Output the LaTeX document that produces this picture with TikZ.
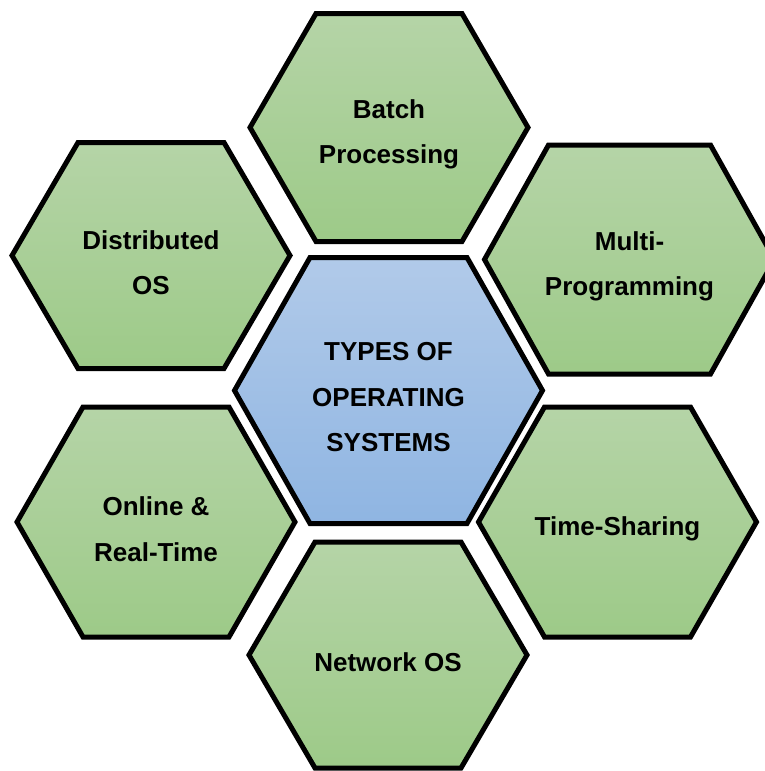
\documentclass[tikz,border=0pt]{standalone}
\usepackage{fontspec}
\setmainfont{Liberation Sans}
\usepackage{tikz}
\usetikzlibrary{positioning}
\definecolor{greentop}{RGB}{181,212,167}
\definecolor{greenbot}{RGB}{157,202,136}
\definecolor{bluetop}{RGB}{177,202,233}
\definecolor{bluebot}{RGB}{143,181,226}
\tikzset{
  hexgreen/.style={
    draw=black, line width=5pt, line join=miter,
    top color=greentop, bottom color=greenbot},
  hexblue/.style={
    draw=black, line width=5pt, line join=miter,
    top color=bluetop, bottom color=bluebot},
  hextext/.style={
    align=center, text=black, yshift=-7pt,
    font=\fontsize{26}{45.5}\selectfont\bfseries},
}

\begin{document}
\begin{tikzpicture}[x=1pt, y=-1pt]
    \useasboundingbox (0,0) rectangle (765,771);

    %centre
    \draw[hexblue, shift={(388.5,390.5)}] (-154,0) -- (-78.5,-133) -- (78.5,-133)
        -- (154,0) -- (78.5,133) -- (-78.5,133) -- cycle;
    \node[hextext] (types) at (388.5,390.5) {TYPES OF\\OPERATING\\SYSTEMS};

    %top
    \draw[hexgreen, shift={(389,127.5)}] (-139,0) -- (-73,-114) -- (73,-114)
        -- (139,0) -- (73,114) -- (-73,114) -- cycle;
    \node[hextext] (batch) at (389,127.5) {Batch\\Processing};

    %upper left
    \draw[hexgreen, shift={(151,255.5)}] (-139,0) -- (-73,-113) -- (73,-113)
        -- (139,0) -- (73,113) -- (-73,113) -- cycle;
    \node[hextext] (distributed) at (151,255.5) {Distributed\\OS};

    %upper right (runs past the right edge)
    \draw[hexgreen, shift={(629.5,259.5)}] (-145,0) -- (-81,-114.5) -- (81,-114.5)
        -- (145,0) -- (81,114.5) -- (-81,114.5) -- cycle;
    \node[hextext] (multi) at (629.5,259.5) {Multi-\\Programming};

    %lower right
    \draw[hexgreen, shift={(617.5,522)}] (-139,0) -- (-73,-115) -- (73,-115)
        -- (139,0) -- (73,115) -- (-73,115) -- cycle;
    \node[hextext] (timesharing) at (617.5,522) {Time-Sharing};

    %lower left
    \draw[hexgreen, shift={(156,522)}] (-139,0) -- (-73,-115) -- (73,-115)
        -- (139,0) -- (73,115) -- (-73,115) -- cycle;
    \node[hextext] (online) at (156,522) {Online \&\\Real-Time};

    %bottom
    \draw[hexgreen, shift={(388,655)}] (-139,0) -- (-73,-113) -- (73,-113)
        -- (139,0) -- (73,113) -- (-73,113) -- cycle;
    \node[hextext] (network) at (388,655) {Network OS};

\end{tikzpicture}
\end{document}
